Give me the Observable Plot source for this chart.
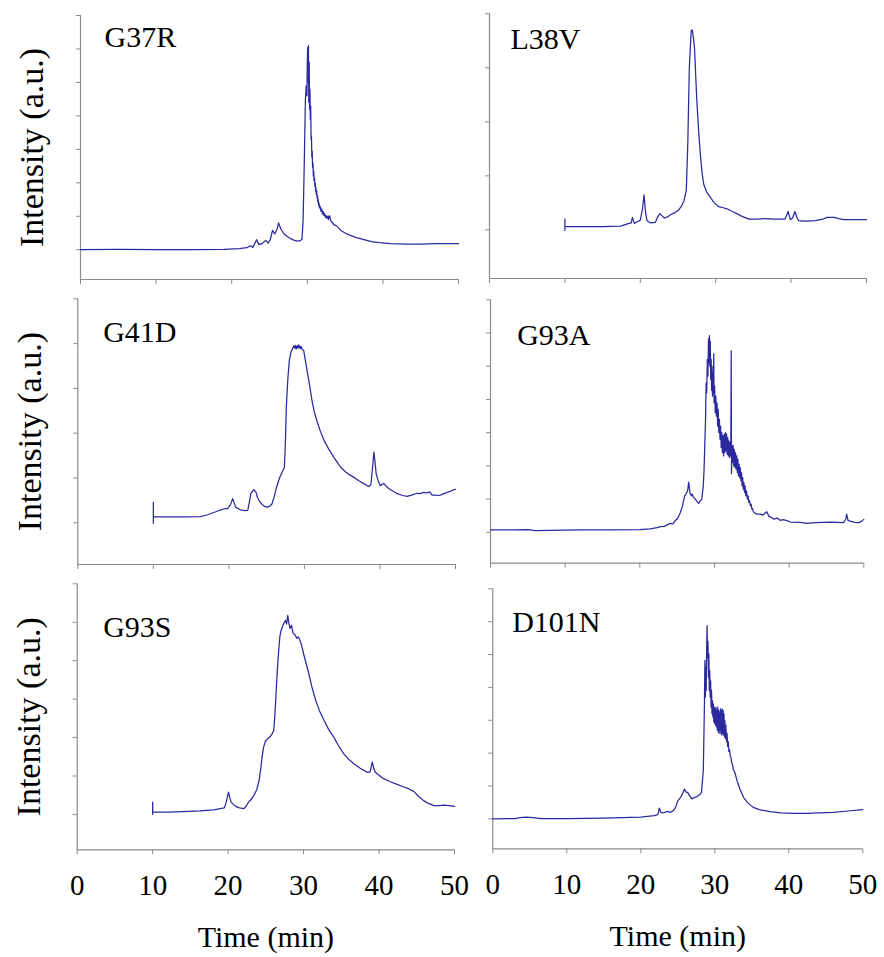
<!DOCTYPE html>
<html><head><meta charset="utf-8">
<script src="https://cdn.jsdelivr.net/npm/d3@7"></script>
<script src="https://cdn.jsdelivr.net/npm/@observablehq/plot@0.6"></script>
<style>
body{margin:0;background:#fff;}
#wrap{position:relative;width:884px;height:957px;overflow:hidden;background:#fff;}
#wrap svg{position:absolute;overflow:visible;}
</style></head><body><div id="wrap"></div>
<script>
// ---- data (time in min, intensity in a.u.) ----
const xTicks = [0, 10, 20, 30, 40, 50];
const panelNames = ["G37R", "L38V", "G41D", "G93A", "G93S", "D101N"];
const yTopTicks = [7, 4, 5, 7, 6, 7];
const yBottoms = [-0.89, -0.9, -0.93, -0.93, -0.92, -0.91];
const xLabel = "Time (min)";
const yLabel = "Intensity (a.u.)";

const g37r = [[0,0.00],[5,0.01],[10,0.00],[15,0.00],[19,0.01],[21,0.03],[22,0.06],[22.5,0.12],[22.8,0.07],[23.3,0.30],[23.6,0.15],[24.0,0.18],[24.5,0.28],[24.8,0.20],[25.1,0.30],[25.4,0.58],[25.7,0.47],[26.0,0.62],[26.2,0.80],[26.5,0.62],[26.9,0.48],[27.3,0.40],[27.8,0.33],[28.3,0.28],[28.7,0.26],[29.1,0.27],[29.3,0.32],[29.45,0.9],[29.6,2.6],[29.75,4.5],[29.85,4.9],[29.95,4.6],[30.0,5.6],[30.05,6.05],[30.1,5.0],[30.15,6.1],[30.2,4.4],[30.25,5.6],[30.3,4.2],[30.35,4.8],[30.4,3.9],[30.45,4.3],[30.5,3.3],[30.55,3.4],[30.6,2.77],[30.65,2.95],[30.7,2.45],[30.75,2.6],[30.8,2.2],[30.85,2.35],[30.9,2.05],[30.95,2.15],[31.0,1.9],[31.05,2.0],[31.1,1.75],[31.15,1.85],[31.2,1.65],[31.25,1.75],[31.3,1.55],[31.35,1.62],[31.4,1.42],[31.45,1.5],[31.5,1.32],[31.55,1.40],[31.6,1.25],[31.7,1.3],[31.8,1.15],[31.9,1.22],[32.0,1.07],[32.1,1.15],[32.2,1.02],[32.3,1.08],[32.4,0.97],[32.5,1.02],[32.6,0.94],[32.7,1.0],[32.8,0.9],[32.9,1.02],[33.0,0.98],[33.1,0.86],[33.2,0.85],[33.3,0.80],[33.4,0.80],[33.5,0.75],[33.8,0.72],[34.1,0.66],[34.4,0.58],[35.0,0.50],[35.7,0.43],[36.5,0.36],[37.5,0.30],[38.5,0.24],[39.5,0.21],[41,0.18],[43,0.17],[45,0.17],[47,0.18],[50,0.18]];

const l38v = [[10,0.20],[10,-0.01],[10,0.06],[12,0.06],[15,0.06],[17.4,0.07],[18.3,0.11],[18.8,0.13],[18.95,0.23],[19.2,0.12],[19.6,0.15],[20.0,0.18],[20.3,0.40],[20.5,0.65],[20.7,0.32],[20.9,0.17],[21.3,0.13],[22.0,0.14],[22.3,0.24],[22.6,0.30],[22.9,0.26],[23.2,0.22],[23.6,0.24],[24.0,0.28],[24.6,0.32],[25.1,0.37],[25.5,0.45],[25.8,0.54],[26.1,0.73],[26.3,1.6],[26.5,3.0],[26.75,3.69],[26.9,3.70],[27.05,3.55],[27.2,3.35],[27.35,2.85],[27.5,2.39],[27.75,1.8],[28.0,1.34],[28.2,1.05],[28.4,0.85],[28.8,0.70],[29.3,0.60],[29.8,0.50],[30.4,0.43],[31.0,0.41],[31.5,0.39],[32.2,0.34],[32.8,0.30],[33.5,0.25],[34.4,0.20],[35.5,0.20],[36.5,0.21],[37.7,0.20],[39.2,0.20],[39.6,0.34],[39.9,0.19],[40.2,0.22],[40.5,0.34],[40.8,0.22],[41.0,0.17],[41.9,0.16],[43.2,0.17],[44.2,0.20],[44.8,0.23],[45.7,0.23],[46.3,0.21],[47.0,0.19],[48.5,0.19],[50,0.19]];

const g41d = [[10,0.46],[10,-0.01],[10,0.134],[12,0.134],[14,0.134],[16.2,0.14],[17.2,0.18],[18.0,0.23],[18.8,0.28],[19.5,0.32],[19.8,0.31],[20.2,0.40],[20.5,0.54],[20.7,0.45],[20.9,0.35],[21.5,0.29],[22.1,0.27],[22.5,0.28],[22.7,0.45],[22.9,0.65],[23.3,0.74],[23.6,0.68],[23.8,0.56],[24.1,0.47],[24.4,0.41],[24.8,0.36],[25.1,0.35],[25.4,0.37],[25.7,0.42],[26.0,0.58],[26.3,0.79],[26.7,1.00],[27.05,1.13],[27.35,1.24],[27.5,1.9],[27.6,2.58],[27.8,3.2],[28.0,3.62],[28.2,3.80],[28.4,3.88],[28.6,3.95],[28.7,3.90],[28.8,3.96],[28.9,3.88],[29.0,3.95],[29.1,3.90],[29.2,3.97],[29.3,3.90],[29.4,3.95],[29.5,3.89],[29.6,3.93],[29.7,3.87],[29.9,3.85],[30.1,3.65],[30.35,3.40],[30.7,3.05],[31.0,2.73],[31.3,2.48],[31.7,2.25],[32.1,2.05],[32.6,1.84],[33.2,1.65],[33.9,1.46],[34.4,1.34],[34.8,1.24],[35.5,1.13],[36.0,1.07],[36.5,1.02],[37.2,0.94],[37.8,0.88],[38.5,0.81],[38.8,0.85],[39.0,1.2],[39.2,1.58],[39.35,1.35],[39.5,1.09],[39.8,0.92],[40.05,0.83],[40.5,0.88],[40.8,0.82],[41.2,0.76],[41.8,0.70],[42.3,0.65],[43.0,0.61],[43.6,0.59],[44.2,0.62],[44.9,0.66],[45.3,0.65],[45.8,0.68],[46.2,0.67],[46.6,0.69],[46.9,0.62],[47.4,0.62],[47.9,0.61],[48.3,0.64],[48.9,0.68],[49.3,0.70],[49.6,0.73],[50,0.75]];

const g93a = [[0,0.07],[3,0.07],[5,0.08],[6,0.05],[8,0.06],[12,0.07],[16,0.07],[20,0.08],[21.4,0.10],[22.3,0.14],[22.8,0.17],[23.3,0.18],[23.8,0.24],[24.1,0.27],[24.4,0.25],[24.7,0.34],[25.1,0.43],[25.4,0.58],[25.7,0.78],[26.0,1.10],[26.2,1.16],[26.4,1.25],[26.55,1.51],[26.7,1.20],[26.9,1.10],[27.0,1.15],[27.2,1.05],[27.5,0.98],[27.7,0.92],[27.9,0.87],[28.1,0.95],[28.3,1.0],[28.5,1.4],[28.6,1.86],[28.8,3.36],[28.88,4.50],[28.96,4.20],[29.04,5.20],[29.12,4.70],[29.20,5.83],[29.26,5.10],[29.32,5.92],[29.38,5.00],[29.44,5.75],[29.50,4.60],[29.56,5.20],[29.62,4.27],[29.68,5.00],[29.74,4.10],[29.80,4.80],[29.86,4.20],[29.90,5.37],[29.95,3.90],[30.02,4.40],[30.10,3.60],[30.18,4.10],[30.26,3.50],[30.34,3.90],[30.42,3.20],[30.50,3.70],[30.58,3.00],[30.66,3.40],[30.74,2.80],[30.82,3.20],[30.90,2.55],[30.98,3.00],[31.06,2.40],[31.14,2.90],[31.22,2.30],[31.30,2.95],[31.38,2.40],[31.46,3.00],[31.54,2.45],[31.62,2.96],[31.70,2.35],[31.78,2.85],[31.86,2.30],[31.94,2.75],[32.02,2.25],[32.10,2.70],[32.18,2.30],[32.24,5.47],[32.28,1.76],[32.34,2.60],[32.42,2.10],[32.50,2.62],[32.58,2.00],[32.66,2.50],[32.74,1.95],[32.82,2.40],[32.90,1.90],[32.98,2.30],[33.06,1.80],[33.14,2.20],[33.22,1.70],[33.30,2.05],[33.38,1.65],[33.46,1.95],[33.54,1.55],[33.62,1.80],[33.70,1.40],[33.78,1.65],[33.86,1.30],[33.94,1.50],[34.02,1.20],[34.10,1.40],[34.20,1.10],[34.30,1.25],[34.40,1.00],[34.50,1.10],[34.60,0.90],[34.70,0.95],[34.80,0.80],[34.90,0.85],[35.00,0.70],[35.10,0.72],[35.20,0.62],[35.3,0.60],[35.6,0.55],[36.1,0.55],[36.5,0.52],[37.0,0.62],[37.3,0.48],[37.6,0.45],[37.9,0.40],[38.4,0.43],[38.8,0.36],[39.2,0.38],[39.7,0.35],[40.2,0.31],[41.0,0.30],[41.5,0.30],[42.3,0.27],[43.5,0.29],[44.6,0.30],[45.5,0.31],[46.5,0.30],[47.3,0.29],[47.6,0.40],[47.7,0.55],[47.9,0.35],[48.3,0.33],[48.8,0.30],[49.3,0.29],[49.7,0.33],[50,0.39]];

const g93s = [[10,0.32],[10,0.0],[10,0.06],[12,0.06],[14,0.07],[16.3,0.09],[18.1,0.12],[19.5,0.17],[19.75,0.32],[20.05,0.58],[20.2,0.45],[20.4,0.32],[21.0,0.21],[21.5,0.17],[22.1,0.15],[22.4,0.22],[22.7,0.32],[23.1,0.40],[23.4,0.49],[23.8,0.65],[24.1,0.88],[24.3,1.15],[24.5,1.49],[24.7,1.75],[24.95,1.91],[25.3,1.98],[25.6,2.03],[25.85,2.10],[26.05,2.19],[26.2,2.6],[26.4,3.32],[26.6,4.0],[26.85,4.62],[27.0,4.78],[27.2,4.88],[27.4,4.98],[27.6,5.05],[27.75,4.95],[27.9,5.18],[28.05,4.98],[28.2,4.84],[28.4,4.92],[28.6,4.72],[28.9,4.66],[29.1,4.58],[29.3,4.62],[29.6,4.49],[29.8,4.35],[30.0,4.18],[30.35,3.92],[30.7,3.66],[31.1,3.32],[31.6,2.97],[32.1,2.70],[32.7,2.45],[33.3,2.22],[34.0,2.01],[34.6,1.80],[35.3,1.58],[35.9,1.45],[36.65,1.32],[37.5,1.20],[38.4,1.10],[38.8,1.10],[39.1,1.36],[39.3,1.20],[39.5,1.10],[40.0,1.02],[40.6,0.93],[41.5,0.85],[42.4,0.78],[43.2,0.72],[43.9,0.67],[44.6,0.60],[45.2,0.48],[45.9,0.36],[46.6,0.28],[47.3,0.23],[48.0,0.23],[48.6,0.24],[49.3,0.23],[50,0.21]];

const d101n = [[0,0.0],[3,0.01],[3.7,0.04],[4.5,0.05],[5.5,0.04],[6.5,0.01],[10,0.01],[15,0.02],[20,0.05],[21.8,0.10],[22.3,0.13],[22.5,0.33],[22.7,0.20],[23.0,0.18],[23.6,0.23],[24.0,0.20],[24.4,0.25],[24.7,0.35],[25.0,0.55],[25.4,0.66],[25.7,0.80],[25.9,0.91],[26.1,0.82],[26.35,0.80],[26.6,0.70],[26.9,0.61],[27.2,0.65],[27.6,0.68],[28.0,0.75],[28.2,0.81],[28.45,1.47],[28.60,3.50],[28.66,4.82],[28.72,3.70],[28.78,4.60],[28.84,3.90],[28.90,5.20],[28.96,5.88],[29.02,4.90],[29.08,5.40],[29.14,4.31],[29.20,5.02],[29.26,3.90],[29.32,4.50],[29.38,3.70],[29.44,4.20],[29.50,3.40],[29.56,3.90],[29.62,3.20],[29.68,3.60],[29.74,3.10],[29.80,3.50],[29.86,2.95],[29.92,3.40],[29.98,2.90],[30.04,3.35],[30.10,2.85],[30.16,3.40],[30.22,2.80],[30.28,3.30],[30.34,2.70],[30.40,3.40],[30.46,2.65],[30.52,3.30],[30.58,2.60],[30.64,3.25],[30.70,2.70],[30.76,3.35],[30.82,2.60],[30.88,3.30],[30.94,2.55],[31.00,3.35],[31.06,2.60],[31.12,3.30],[31.18,2.55],[31.24,3.20],[31.30,2.50],[31.36,3.00],[31.42,2.45],[31.50,2.85],[31.58,2.35],[31.66,2.60],[31.74,2.20],[31.82,2.35],[31.90,2.05],[32.00,2.10],[32.10,1.90],[32.20,1.85],[32.30,1.70],[32.40,1.65],[32.50,1.50],[32.7,1.42],[33.0,1.17],[33.4,0.90],[33.9,0.65],[34.5,0.48],[35.2,0.35],[36.0,0.28],[37.5,0.22],[38.85,0.18],[40.7,0.17],[42.5,0.17],[44,0.18],[46,0.20],[48,0.24],[50,0.28]];

const series = [g37r, l38v, g41d, g93a, g93s, d101n];

// ---- layout (pixels) ----
const layout = [
  {left:0,   top:0,   w:470, h:290, mL:80,   mR:12,   mT:15,   mB:11,    nameDx:24,   nameDy:31.7, leftCol:true,  bottom:false},
  {left:470, top:0,   w:414, h:290, mL:19,   mR:18,   mT:13.3, mB:12,    nameDx:21,   nameDy:35,   leftCol:false, bottom:false},
  {left:0,   top:290, w:470, h:285, mL:77.3, mR:15,   mT:8.3,  mB:11,    nameDx:25.4, nameDy:42.7, leftCol:true,  bottom:false},
  {left:470, top:290, w:414, h:285, mL:20,   mR:20.7, mT:9.3,  mB:12.3,  nameDx:26.7, nameDy:44.7, leftCol:false, bottom:false},
  {left:0,   top:575, w:470, h:382, mL:76.7, mR:16,   mT:8.3,  mB:107.7, nameDx:26,   nameDy:52.7, leftCol:true,  bottom:true},
  {left:470, top:575, w:414, h:382, mL:22.3, mR:21.7, mT:13.3, mB:108.7, nameDx:19.4, nameDy:43.4, leftCol:false, bottom:true}
];
const axisColor = "#8a8a8a";
const lineColor = "#2a2a9e";
const fontFamily = "'Liberation Serif', 'Times New Roman', serif";

const wrap = document.getElementById("wrap");
series.forEach((data, i) => {
  const L = layout[i];
  const yTop = yTopTicks[i], yBot = yBottoms[i];
  const marks = [
    Plot.ruleX([0], {stroke: axisColor, strokeWidth: 1.2}),
    Plot.ruleY([yBot], {stroke: axisColor, strokeWidth: 1.2}),
    Plot.axisY({ticks: d3.range(0, yTop + 1), tickSize: 4, tickFormat: () => "", label: null, stroke: axisColor}),
    Plot.axisX({ticks: xTicks, tickSize: 5, tickPadding: 20, tickFormat: L.bottom ? (d => String(d)) : (() => ""), label: null, stroke: axisColor, fontSize: 29}),
    Plot.line(data, {x: d => d[0], y: d => d[1], stroke: lineColor, strokeWidth: 1.25, strokeLinejoin: "round"}),
    Plot.text([panelNames[i]], {frameAnchor: "top-left", textAnchor: "start", lineAnchor: "bottom", dx: L.nameDx, dy: L.nameDy, fontSize: 30, fill: "black"})
  ];
  if (L.leftCol) marks.push(Plot.text([yLabel], {frameAnchor: "left", textAnchor: "middle", lineAnchor: "middle", rotate: -90, dx: -48, fontSize: 34, fill: "black"}));
  if (L.bottom) marks.push(Plot.text([xLabel], {frameAnchor: "bottom", textAnchor: "middle", lineAnchor: "bottom", dy: 97.4, fontSize: 30, fill: "black"}));
  const svg = Plot.plot({
    width: L.w, height: L.h,
    marginLeft: L.mL, marginRight: L.mR, marginTop: L.mT, marginBottom: L.mB,
    x: {domain: [0, 50]},
    y: {domain: [yBot, yTop]},
    style: {fontFamily, fontSize: "29px", background: "transparent", overflow: "visible", color: "black"},
    marks
  });
  svg.style.left = L.left + "px";
  svg.style.top = L.top + "px";
  svg.style.position = "absolute";
  svg.style.maxWidth = "none";
  wrap.appendChild(svg);
});
</script></body></html>
